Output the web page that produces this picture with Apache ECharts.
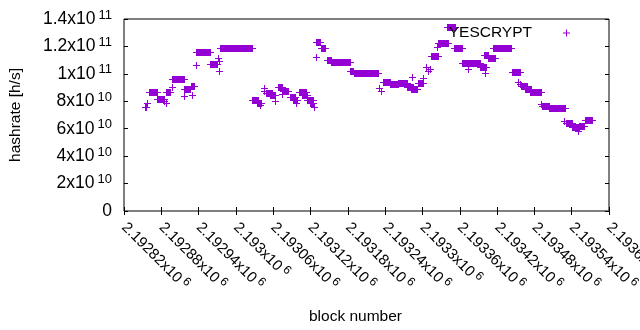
<!DOCTYPE html>
<html>
<head>
<meta charset="utf-8">
<script src="https://cdn.jsdelivr.net/npm/echarts@6/dist/echarts.min.js"></script>
<style>
  html, body { margin: 0; padding: 0; background: #fff; }
  #main { width: 640px; height: 330px; }
</style>
</head>
<body>
<div id="main"></div>
<script>
// runs of blocks with the same hashrate: first block, last block, hashrate [h/s]
var runStart = [2192854, 2192857, 2192860, 2192873, 2192885, 2192887, 2192888, 2192897, 2192897, 2192917,
  2192917, 2192928, 2192929, 2192935, 2192936, 2192958, 2192971, 2192973, 2192972, 2192974,
  2193026, 2193034, 2193039, 2193045, 2193045, 2193048, 2193055, 2193063, 2193068, 2193074,
  2193076, 2193087, 2193092, 2193097, 2193101, 2193106, 2193114, 2193119, 2193126,
  2193128, 2193129, 2193137, 2193146, 2193153, 2193183, 2193190, 2193230, 2193233, 2193236,
  2193248, 2193261, 2193275, 2193283, 2193282, 2193293, 2193301, 2193306, 2193309, 2193312,
  2193314, 2193323, 2193325, 2193340, 2193351, 2193364, 2193373, 2193393, 2193401, 2193399,
  2193405, 2193413, 2193444, 2193454, 2193457, 2193458, 2193465, 2193473, 2193491, 2193492,
  2193504, 2193528, 2193531, 2193540, 2193550, 2193552, 2193561];
var runEnd = [2192855, 2192857, 2192873, 2192884, 2192885, 2192887, 2192894, 2192897, 2192916, 2192917,
  2192926, 2192933, 2192929, 2192935, 2192958, 2192970, 2192971, 2192973, 2192972, 2193026,
  2193036, 2193040, 2193039, 2193045, 2193045, 2193058, 2193063, 2193063, 2193074, 2193074,
  2193084, 2193095, 2193098, 2193097, 2193113, 2193114, 2193124, 2193124, 2193126,
  2193128, 2193135, 2193143, 2193153, 2193183, 2193188, 2193228, 2193230, 2193233, 2193248,
  2193261, 2193275, 2193285, 2193283, 2193291, 2193301, 2193301, 2193306, 2193309, 2193312,
  2193325, 2193323, 2193341, 2193352, 2193364, 2193393, 2193373, 2193402, 2193401, 2193405,
  2193417, 2193442, 2193457, 2193454, 2193457, 2193468, 2193475, 2193491, 2193491, 2193504,
  2193529, 2193528, 2193540, 2193552, 2193550, 2193560, 2193573];
var runRate = [7.58e10, 7.88e10, 8.68e10, 8.17e10, 8.02e10, 7.84e10, 8.68e10, 9.04e10, 9.60e10, 8.36e10,
  8.93e10, 9.11e10, 8.48e10, 10.62e10, 11.63e10, 10.70e10, 11.16e10, 10.94e10, 10.21e10, 11.85e10,
  8.09e10, 7.87e10, 7.70e10, 8.97e10, 8.75e10, 8.63e10, 8.46e10, 8.02e10, 9.02e10, 8.50e10,
  8.77e10, 8.34e10, 8.09e10, 7.87e10, 8.65e10, 8.46e10, 8.07e10, 7.84e10, 7.55e10,
  11.21e10, 12.30e10, 11.92e10, 10.99e10, 10.84e10, 10.19e10, 10.04e10, 8.97e10, 8.75e10, 9.43e10,
  9.26e10, 9.33e10, 9.06e10, 9.79e10, 8.90e10, 9.31e10, 9.68e10, 10.50e10, 10.21e10, 10.35e10,
  11.27e10, 11.98e10, 12.23e10, 13.45e10, 11.86e10, 10.79e10, 10.32e10, 10.52e10, 10.04e10, 11.34e10,
  11.13e10, 11.86e10, 10.11e10, 9.41e10, 9.26e10, 9.11e10, 8.86e10, 8.70e10, 7.80e10, 7.69e10,
  7.49e10, 6.56e10, 6.42e10, 6.12e10, 5.80e10, 6.23e10, 6.61e10];

var seriesName = 'YESCRYPT';
var xMin = 2192820, xMax = 2193600, xStep = 60;
var yMin = 0, yMax = 1.4e11, yStep = 2e10;

(function () {
  var myChart = echarts.init(document.getElementById('main'));
  var color = '#9400d3';
  var font = 'Liberation Sans';
  var plus = 'path://M3,0h1v3h3v1h-3v3h-1v-3h-3v-1h3z';

  var data = runStart.map(function (s, i) { return [s, runEnd[i], runRate[i]]; });

  var xRich = {
    m: { fontSize: 15, fontFamily: font, color: '#000' },
    e: { fontSize: 12, fontFamily: font, color: '#000', padding: [0, 0, 8, 3] }
  };
  var yRich = {
    m: { fontSize: 17.5, fontFamily: font, color: '#000' },
    e: { fontSize: 13, fontFamily: font, color: '#000', padding: [0, 0, 8, 3] }
  };
  // 2192820 -> 2.19282x10^6
  function xFmt(v) {
    var m = (v / 1e6).toFixed(5).replace(/0+$/, '').replace(/\.$/, '');
    return '{m|' + m + 'x10}{e|6}';
  }
  function yFmt(v) {
    if (v === 0) return '{m|0}';
    var e = Math.floor(Math.log10(v) + 1e-9);
    var m = +(v / Math.pow(10, e)).toFixed(1);
    return '{m|' + m + 'x10}{e|' + e + '}';
  }

  var tick = { inside: true, length: 4, lineStyle: { color: '#000' } };

  var option = {
    animation: false,
    backgroundColor: '#fff',
    grid: {
      left: 124, right: 31, top: 19, bottom: 119,
      containLabel: false, outerBoundsMode: 'none',
      show: true, borderColor: '#000', borderWidth: 1
    },
    legend: {
      data: [{ name: seriesName, icon: plus }],
      right: 70, top: 25, padding: 0,
      align: 'right', itemWidth: 7, itemHeight: 7,
      textStyle: { fontSize: 15.5, fontFamily: font, color: '#000', padding: [0, 26, 0, 0] }
    },
    xAxis: [{
      type: 'value', min: xMin, max: xMax, interval: xStep,
      axisLine: { show: false }, axisTick: tick, splitLine: { show: false },
      axisLabel: { rotate: -45, margin: 14, fontSize: 15, fontFamily: font, color: '#000', formatter: xFmt, rich: xRich },
      name: 'block number', nameLocation: 'middle', nameGap: 98,
      nameTextStyle: { fontSize: 15.5, fontFamily: font, color: '#000', padding: [0, 22, 0, 0] }
    }, {
      type: 'value', position: 'top', min: xMin, max: xMax, interval: xStep,
      axisLine: { show: false }, axisTick: tick, axisLabel: { show: false }, splitLine: { show: false }
    }],
    yAxis: [{
      type: 'value', min: yMin, max: yMax, interval: yStep,
      axisLine: { show: false }, axisTick: tick, splitLine: { show: false },
      axisLabel: { margin: 12, fontSize: 17.5, fontFamily: font, color: '#000', formatter: yFmt, rich: yRich },
      name: 'hashrate [h/s]', nameLocation: 'middle', nameGap: 100,
      nameTextStyle: { fontSize: 15.5, fontFamily: font, color: '#000' }
    }, {
      type: 'value', position: 'right', min: yMin, max: yMax, interval: yStep,
      axisLine: { show: false }, axisTick: tick, axisLabel: { show: false }, splitLine: { show: false }
    }],
    series: [{
      name: seriesName,
      type: 'custom',
      itemStyle: { color: color },
      encode: { x: [0, 1], y: 2 },
      data: data,
      renderItem: function (params, api) {
        var a = api.coord([api.value(0), api.value(2)]);
        var b = api.coord([api.value(1), api.value(2)]);
        var x1 = Math.round(a[0]), x2 = Math.round(b[0]), y = Math.round(a[1]);
        return {
          type: 'group',
          children: [
            { type: 'rect', shape: { x: x1, y: y - 3, width: x2 - x1 + 1, height: 7 }, style: { fill: color } },
            { type: 'rect', shape: { x: x1 - 3, y: y, width: x2 - x1 + 7, height: 1 }, style: { fill: color } }
          ]
        };
      }
    }]
  };
  myChart.setOption(option);
})();
</script>
</body>
</html>
